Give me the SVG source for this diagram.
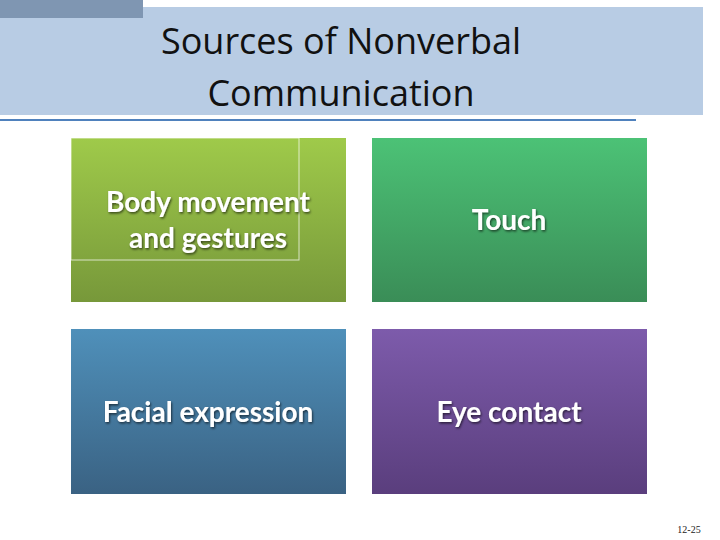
<svg xmlns="http://www.w3.org/2000/svg" width="720" height="540" viewBox="0 0 720 540">
<defs>
<linearGradient id="g1" x1="0" y1="0" x2="0" y2="1"><stop offset="0" stop-color="#9fca4a"/><stop offset="1" stop-color="#77983a"/></linearGradient>
<linearGradient id="g2" x1="0" y1="0" x2="0" y2="1"><stop offset="0" stop-color="#4cc276"/><stop offset="1" stop-color="#3a8d57"/></linearGradient>
<linearGradient id="g3" x1="0" y1="0" x2="0" y2="1"><stop offset="0" stop-color="#4f90ba"/><stop offset="1" stop-color="#3a6283"/></linearGradient>
<linearGradient id="g4" x1="0" y1="0" x2="0" y2="1"><stop offset="0" stop-color="#7d5bab"/><stop offset="1" stop-color="#5a3e7d"/></linearGradient>
<filter id="sh" x="-10%" y="-30%" width="120%" height="160%"><feDropShadow dx="1" dy="1.5" stdDeviation="0.8" flood-color="#000" flood-opacity="0.6"/></filter>
</defs>
<style>
.t{font-family:Lato,"Open Sans",sans-serif;font-weight:bold;font-size:28px;fill:#fff;text-anchor:middle;filter:url(#sh)}
.h{font-family:"Open Sans",Lato,sans-serif;font-size:36px;fill:#111;text-anchor:middle}
</style>
<rect width="720" height="540" fill="#fff"/>
<rect x="0" y="7" width="703" height="108" fill="#b8cce4"/>
<rect x="0" y="0" width="143" height="18" fill="#7f96b2"/>
<line x1="0" y1="120" x2="636" y2="120" stroke="#4f81bd" stroke-width="2"/>
<text class="h" x="341" y="54">Sources of Nonverbal</text>
<text class="h" x="341" y="106">Communication</text>
<g id="body"><rect x="71" y="138" width="275" height="164" fill="url(#g1)"/><rect x="71" y="138" width="228" height="122" fill="none" stroke="#fff" stroke-opacity="0.7" stroke-width="1"/><text class="t" x="208" y="212">Body movement</text><text class="t" x="208" y="248">and gestures</text></g>
<g id="touch"><rect x="372" y="138" width="275" height="164" fill="url(#g2)"/><text class="t" x="509" y="230">Touch</text></g>
<g id="facial"><rect x="71" y="329" width="275" height="165" fill="url(#g3)"/><text class="t" x="208" y="422">Facial expression</text></g>
<g id="eye"><rect x="372" y="329" width="275" height="165" fill="url(#g4)"/><text class="t" x="509" y="422">Eye contact</text></g>
<g id="connectors"/>
<text x="689" y="533" font-family="Liberation Serif,serif" font-size="10" text-anchor="middle" fill="#222">12-25</text>
</svg>
